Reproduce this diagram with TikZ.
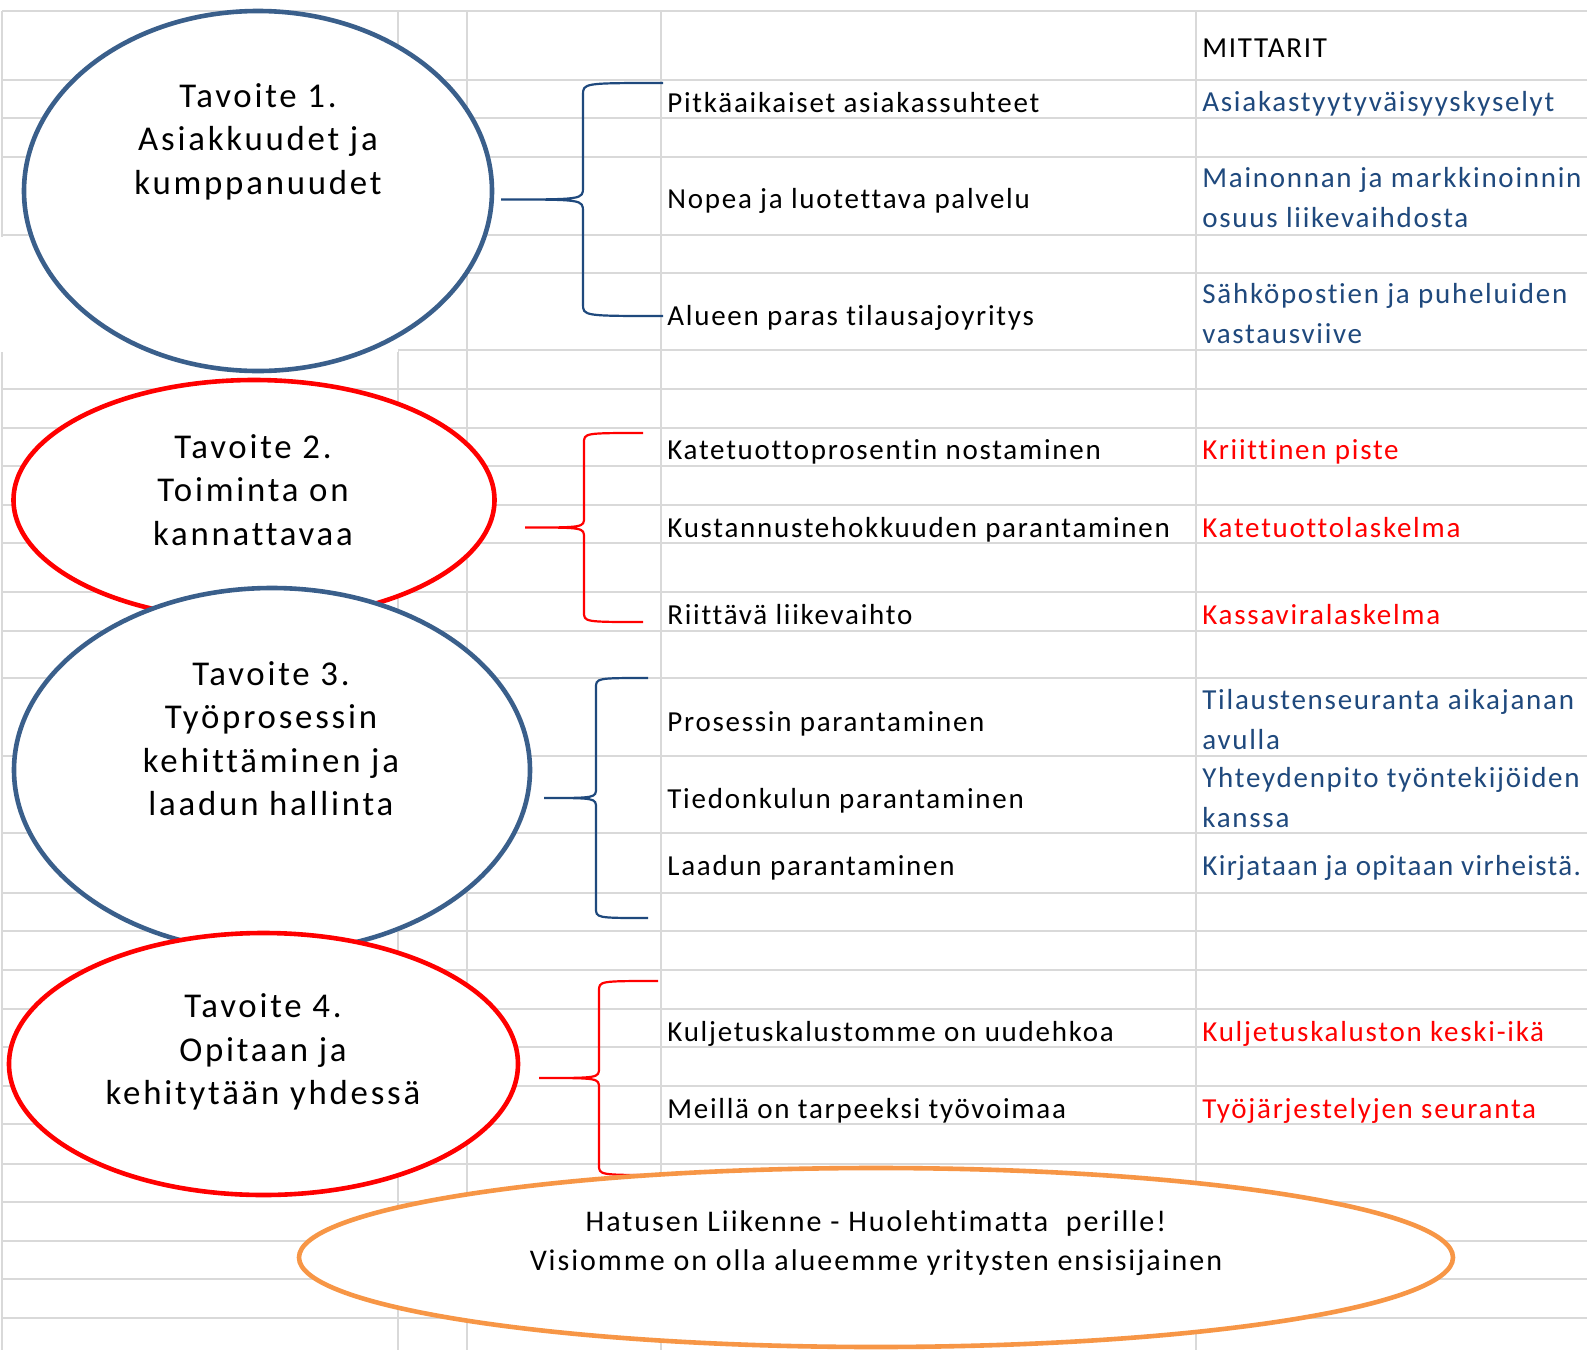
\documentclass[tikz,border=0pt]{standalone}
\usepackage{fontspec}
\setmainfont{Carlito}[LetterSpace=6, Ligatures=CommonOff]
\newfontfamily\goalfont{Carlito}[LetterSpace=8, Ligatures=CommonOff]
\newfontfamily\visionfont{Carlito}[LetterSpace=6.6, Ligatures=CommonOff]
\newfontfamily\tightfont{Carlito}[LetterSpace=4.6, Ligatures=CommonOff]
\usetikzlibrary{shapes.geometric}
\definecolor{gridgray}{RGB}{217,217,217}
\definecolor{goalblue}{RGB}{58,95,139}
\definecolor{textblue}{RGB}{31,73,125}
\definecolor{visionorange}{RGB}{247,150,70}

\begin{document}
\begin{tikzpicture}[x=0.5pt, y=-0.5pt,
  gridline/.style={draw=gridgray, line width=1.25pt},
  goal/.style={draw, ellipse, fill=white, line width=2.3pt, inner sep=0pt},
  goaltext/.style={align=center, inner sep=0pt,
    font=\goalfont\fontsize{17.4}{21.75}\selectfont},
  visiontext/.style={align=center, inner sep=0pt,
    font=\visionfont\fontsize{15}{19.75}\selectfont},
  item/.style={anchor=base west, inner sep=0pt, align=left,
    font=\fontsize{14.5}{19.75}\selectfont},
  meter/.style={item, text=textblue},
  critical/.style={item, text=red},
  brace/.style={line width=1.1pt}]
  \path[use as bounding box, fill=white] (0,0) rectangle (1587,1350);

  % spreadsheet grid
  \foreach \y in {11,80,118,157,235,273,350,389,428,466,505,543,592,631,678,
                  756,833,893,931,970,1009,1047,1086,1124,1164,1202,1241,1279,1318}
    \draw[gridline] (2,\y) -- (1587,\y);
  \foreach \x in {2,398,467,661,1196}
    \draw[gridline] (\x,11) -- (\x,1350);
  \fill[white] (0,236.5) rectangle (398,351.5);
  \fill[white] (398,236.5) rectangle (465.5,348.5);

  % goals
  \node (g1) [goal, draw=goalblue, minimum width=234pt, minimum height=180pt]
    at (258,191) {};
  \node (g2) [goal, draw=red, minimum width=240.5pt, minimum height=120pt]
    at (254,500) {};
  \node (g3) [goal, draw=goalblue, minimum width=258pt, minimum height=182pt]
    at (272,770) {};
  \node (g4) [goal, draw=red, minimum width=254.5pt, minimum height=131pt]
    at (263.5,1064) {};

  \node (t1) [goaltext] at (258,141.5) {Tavoite 1.\\Asiakkuudet ja\\kumppanuudet};
  \node (t2) [goaltext] at (253,490) {Tavoite 2.\\Toiminta on\\kannattavaa};
  \node (t3) [goaltext] at (271,738.5)
    {Tavoite 3.\\Työprosessin\\kehittäminen ja\\laadun hallinta};
  \node (t4) [goaltext] at (263,1052) {Tavoite 4.\\Opitaan ja\\kehitytään yhdessä};

  % braces
  \draw[brace, textblue] (663,83) .. controls (583,83) .. (583,95) -- (583,187.5)
    .. controls (583,199.5) .. (501,199.5) .. controls (583,199.5) .. (583,211.5)
    -- (583,304) .. controls (583,316) .. (663,316);
  \draw[brace, red] (643,433) .. controls (584,433) .. (584,443) -- (584,517.5)
    .. controls (584,527.5) .. (525,527.5) .. controls (584,527.5) .. (584,537.5)
    -- (584,612) .. controls (584,622) .. (643,622);
  \draw[brace, textblue] (648,678) .. controls (596,678) .. (596,688) -- (596,788)
    .. controls (596,798) .. (544,798) .. controls (596,798) .. (596,808)
    -- (596,908) .. controls (596,918) .. (648,918);
  \draw[brace, red] (658,981) .. controls (599,981) .. (599,991) -- (599,1068)
    .. controls (599,1078) .. (539,1078) .. controls (599,1078) .. (599,1088)
    -- (599,1165) .. controls (599,1175) .. (658,1175);

  % vision
  \node (g5) [goal, draw=visionorange, minimum width=577pt, minimum height=89.5pt]
    at (876,1257.5) {};
  \node (t5) [visiontext] at (876,1243)
    {Hatusen Liikenne - Huolehtimatta\ \ perille!\\Visiomme on olla alueemme yritysten ensisijainen};

  % success factors
  \node (s1) [item] at (667,112) {Pitkäaikaiset asiakassuhteet};
  \node (s2) [item] at (667,208) {Nopea ja luotettava palvelu};
  \node (s3) [item] at (667,325) {Alueen paras tilausajoyritys};
  \node (s4) [item] at (667,459) {Katetuottoprosentin nostaminen};
  \node (s5) [item] at (667,537) {Kustannustehokkuuden parantaminen};
  \node (s6) [item] at (667,624) {Riittävä liikevaihto};
  \node (s7) [item] at (667,731) {Prosessin parantaminen};
  \node (s8) [item] at (667,808) {Tiedonkulun parantaminen};
  \node (s9) [item] at (667,875) {Laadun parantaminen};
  \node (s10) [item] at (667,1041) {Kuljetuskalustomme on uudehkoa};
  \node (s11) [item] at (667,1118) {Meillä on tarpeeksi työvoimaa};

  % measures (two-line nodes sit on their last baseline)
  \node (head) [item] at (1202,57) {MITTARIT};
  \node (m1) [meter] at (1202,111) {Asiakastyytyväisyyskyselyt};
  \node (m2) [meter] at (1202,227) {Mainonnan ja markkinoinnin\\osuus liikevaihdosta};
  \node (m3) [meter] at (1202,343) {Sähköpostien ja puheluiden\\vastausviive};
  \node (m4) [critical] at (1202,459) {Kriittinen piste};
  \node (m5) [critical] at (1202,537) {Katetuottolaskelma};
  \node (m6) [critical] at (1202,624) {Kassaviralaskelma};
  \node (m7) [meter] at (1202,749) {Tilaustenseuranta aikajanan\\avulla};
  \node (m8) [meter] at (1202,827) {Yhteydenpito työntekijöiden\\kanssa};
  \node (m9) [meter, font=\tightfont\fontsize{14.5}{19.75}\selectfont] at (1202,875)
    {Kirjataan ja opitaan virheistä.};
  \node (m10) [critical] at (1202,1041) {Kuljetuskaluston keski-ikä};
  \node (m11) [critical] at (1202,1118) {Työjärjestelyjen seuranta};
\end{tikzpicture}
\end{document}
